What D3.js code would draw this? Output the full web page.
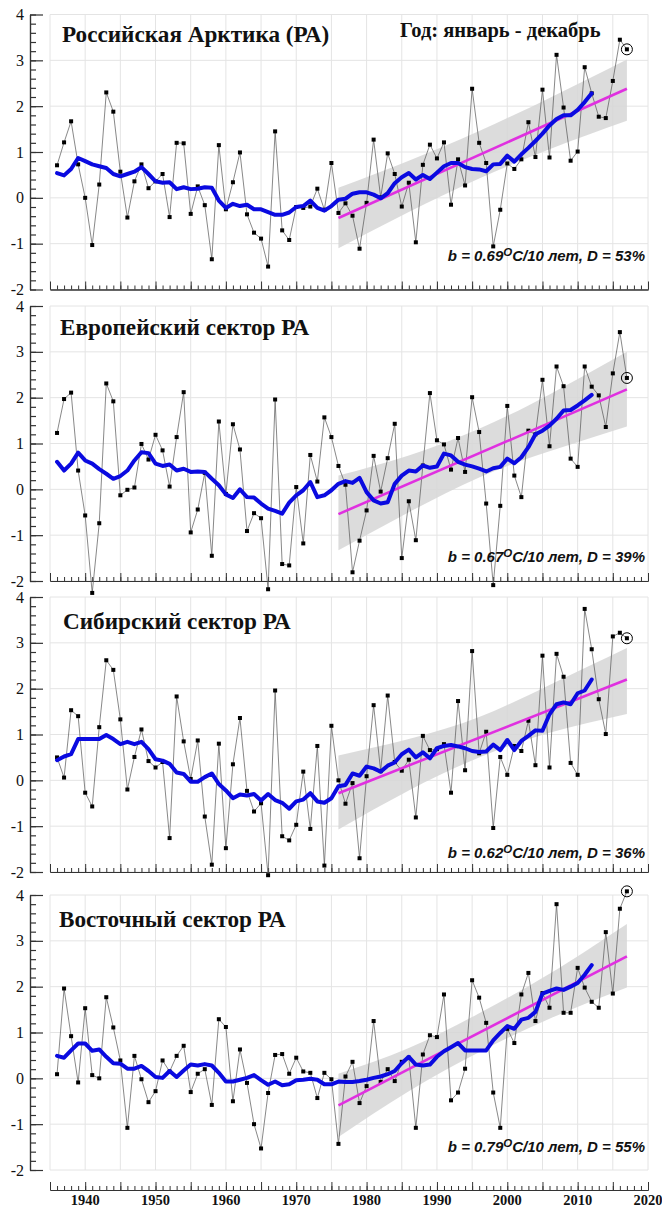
<!DOCTYPE html>
<html><head><meta charset="utf-8">
<script src="https://cdn.jsdelivr.net/npm/d3@7/dist/d3.min.js"></script>
<style>body{margin:0;background:#fff}svg{display:block}</style>
</head><body>
<svg id="chart" width="662" height="1209"></svg>
<script>
// ---------- DATA ----------
const years = d3.range(1936, 2018);          // 1936..2017
const smoothYears = d3.range(1936, 2013);    // 1936..2012
const trendYears = [1976, 2017];
const bandYears = [1976, 1986, 1996, 2006, 2017];
const xLabelYears = [1940, 1950, 1960, 1970, 1980, 1990, 2000, 2010, 2020];
const yTickValues = [-2, -1, 0, 1, 2, 3, 4];

const titles = ["Российская Арктика (РА)", "Европейский сектор РА", "Сибирский сектор РА", "Восточный сектор РА"];
const seasonLabel = "Год: январь - декабрь";
const bValues = ["0.69", "0.67", "0.62", "0.79"];
const dValues = ["53", "39", "36", "55"];

const anomRA = [
  0.71, 1.21, 1.67, 0.73,
  0.00, -1.03, 0.29, 2.30, 1.88, 0.57, -0.43, 0.36, 0.73, 0.21,
  0.36, 0.52, -0.42, 1.20, 1.19, -0.35, 0.25, -0.16, -1.34, 1.15,
  -0.25, 0.34, 0.99, -0.36, -0.76, -0.89, -1.50, 1.45, -0.71, -0.92,
  -0.20, -0.22, -0.19, 0.20, -0.26, 0.76, -0.33, -0.12, -0.39, -1.11,
  -0.11, 1.27, 0.01, 0.97, 0.52, -0.19, 0.33, -0.97, 0.72, 1.16,
  0.86, 1.21, -0.15, 0.84, 0.27, 2.38, 1.20, 0.76, -1.06, -0.26,
  0.75, 0.63, 0.84, 1.65, 0.89, 2.36, 0.88, 3.12, 1.97, 0.81,
  1.01, 2.85, 2.28, 1.77, 1.74, 2.55, 3.45, 3.24
];
const anomEU = [
  1.23, 1.97, 2.11, 0.41,
  -0.57, -2.26, -0.74, 2.31, 1.92, -0.13, -0.01, 0.04, 0.99, 0.65,
  1.19, 0.85, 0.06, 1.14, 2.12, -0.94, -0.44, 0.36, -1.45, 1.48,
  -0.10, 1.42, 0.87, -0.91, -0.52, -0.63, -2.18, 1.96, -1.63, -1.66,
  0.05, -1.18, 0.75, 0.17, 1.57, 1.14, 0.51, 0.10, -1.81, -1.12,
  -0.46, 0.73, -0.05, 0.68, 1.43, -1.50, -0.26, -1.11, 0.52, 2.10,
  1.07, 0.98, 0.43, 1.12, 0.38, 2.01, 1.25, -0.31, -2.09, -0.36,
  1.82, 0.30, -0.17, 1.28, 1.20, 2.39, 0.94, 2.68, 2.25, 0.67,
  0.49, 2.68, 2.24, 2.05, 1.36, 2.53, 3.43, 2.43
];
const anomSIB = [
  0.50, 0.06, 1.53, 1.40,
  -0.27, -0.57, 1.16, 2.62, 2.41, 1.33, -0.20, 0.51, 1.11, 0.42,
  0.28, 0.40, -1.26, 1.83, 0.85, 0.03, 0.87, -0.79, -1.84, 0.80,
  -1.48, 0.35, 1.36, -0.23, -0.68, -0.50, -2.07, 1.96, -1.22, -1.31,
  -0.97, 0.19, -1.06, 0.75, -1.86, 1.19, 0.00, -0.51, -0.06, -1.70,
  0.09, 1.64, 0.20, 1.85, 0.40, 0.21, 0.45, -0.81, 0.97, 0.66,
  0.68, 0.79, -0.27, 1.73, 0.22, 2.82, 0.59, 1.06, -1.04, 0.51,
  0.12, 0.75, 0.64, 1.30, 0.33, 2.72, 0.28, 2.76, 2.26, 0.38,
  0.12, 3.74, 2.86, 1.77, 1.01, 3.14, 3.22, 3.10
];
const anomEAST = [
  0.09, 1.96, 0.92, -0.09,
  1.53, 0.07, 0.00, 1.77, 1.11, 0.39, -1.08, 0.49, -0.02, -0.52,
  -0.28, 0.39, 0.15, 0.49, 0.71, -0.30, 0.10, 0.20, -0.58, 1.29,
  1.12, -0.50, 0.63, -0.10, -1.00, -1.53, -0.32, 0.51, 0.53, 0.10,
  0.45, 0.15, 0.12, -0.43, 0.12, -0.02, -1.43, 0.04, 0.36, -0.54,
  -0.17, 1.25, -0.08, 0.20, -0.06, 0.36, 0.45, -1.08, 0.52, 0.94,
  0.90, 1.83, -0.48, -0.31, 0.21, 2.14, 1.76, 1.21, -0.31, -1.08,
  1.08, 0.77, 1.83, 2.30, 1.25, 1.86, 1.54, 3.80, 1.43, 1.43,
  2.41, 1.98, 1.67, 1.54, 3.19, 1.85, 3.70, 4.08
];

// running-mean curves (1936..2012)
const smoothRA = [
  0.54, 0.49, 0.63, 0.87,
  0.80, 0.73, 0.69, 0.65, 0.52, 0.47, 0.52, 0.57, 0.67, 0.52,
  0.36, 0.33, 0.34, 0.19, 0.23, 0.19, 0.20, 0.23, 0.22, -0.06,
  -0.22, -0.13, -0.18, -0.15, -0.25, -0.25, -0.31, -0.37, -0.37, -0.32,
  -0.20, -0.18, -0.06, -0.22, -0.28, -0.18, -0.04, -0.02, 0.09, 0.12,
  0.12, 0.07, -0.01, 0.10, 0.32, 0.45, 0.54, 0.40, 0.50, 0.41,
  0.55, 0.69, 0.76, 0.76, 0.67, 0.63, 0.62, 0.58, 0.73, 0.74,
  0.92, 0.79, 0.95, 1.09, 1.24, 1.40, 1.58, 1.72, 1.80, 1.80,
  1.92, 2.09, 2.28
];
const smoothEU = [
  0.60, 0.41, 0.56, 0.80,
  0.63, 0.56, 0.44, 0.34, 0.23, 0.29, 0.41, 0.63, 0.81, 0.79,
  0.56, 0.51, 0.54, 0.41, 0.45, 0.38, 0.39, 0.38, 0.23, 0.09,
  -0.11, -0.19, 0.00, -0.17, -0.18, -0.31, -0.42, -0.47, -0.53, -0.29,
  -0.13, -0.02, 0.16, -0.17, -0.13, -0.02, 0.12, 0.18, 0.14, 0.25,
  -0.06, -0.24, -0.31, -0.28, 0.12, 0.30, 0.41, 0.39, 0.52, 0.47,
  0.50, 0.78, 0.74, 0.60, 0.54, 0.50, 0.45, 0.39, 0.46, 0.49,
  0.67, 0.57, 0.70, 0.92, 1.20, 1.28, 1.39, 1.54, 1.72, 1.73,
  1.83, 1.94, 2.06
];
const smoothSIB = [
  0.44, 0.52, 0.57, 0.90,
  0.90, 0.90, 0.90, 0.99, 0.90, 0.79, 0.84, 0.79, 0.84, 0.68,
  0.46, 0.43, 0.36, 0.17, 0.14, -0.03, -0.03, 0.07, 0.15, -0.08,
  -0.22, -0.39, -0.31, -0.33, -0.30, -0.44, -0.30, -0.43, -0.49, -0.62,
  -0.46, -0.42, -0.28, -0.46, -0.49, -0.39, -0.13, -0.10, 0.15, 0.10,
  0.30, 0.26, 0.19, 0.32, 0.39, 0.57, 0.67, 0.50, 0.61, 0.48,
  0.70, 0.75, 0.77, 0.74, 0.70, 0.64, 0.62, 0.63, 0.78, 0.66,
  0.88, 0.66, 0.86, 0.97, 1.09, 1.08, 1.44, 1.66, 1.70, 1.66,
  1.90, 1.96, 2.20
];
const smoothEAST = [
  0.49, 0.45, 0.61, 0.76,
  0.76, 0.60, 0.63, 0.47, 0.33, 0.32, 0.21, 0.21, 0.27, 0.16,
  0.03, 0.01, 0.16, 0.03, 0.17, 0.30, 0.28, 0.31, 0.28, 0.12,
  -0.07, -0.07, -0.03, 0.01, 0.07, -0.04, -0.14, -0.07, -0.15, -0.13,
  -0.04, -0.03, -0.01, -0.03, -0.13, -0.13, -0.07, -0.08, -0.08, -0.06,
  -0.03, 0.01, 0.04, 0.09, 0.16, 0.33, 0.47, 0.30, 0.28, 0.30,
  0.47, 0.59, 0.68, 0.77, 0.61, 0.61, 0.61, 0.61, 0.83, 0.99,
  1.14, 1.08, 1.28, 1.32, 1.45, 1.85, 1.91, 1.96, 1.93, 2.00,
  2.08, 2.26, 2.47
];

// linear trend 1976-2017 (start, end values)
const trendRA = [-0.44, 2.38];
const trendEU = [-0.54, 2.18];
const trendSIB = [-0.28, 2.20];
const trendEAST = [-0.59, 2.66];

// confidence band edges at bandYears
const bandUpRA = [0.22, 0.81, 1.46, 2.18, 3.02];
const bandLoRA = [-1.10, -0.31, 0.42, 1.06, 1.68];
const bandUpEU = [0.30, 0.74, 1.32, 2.07, 3.00];
const bandLoEU = [-1.33, -0.50, 0.26, 0.83, 1.37];
const bandUpSIB = [0.54, 0.90, 1.38, 2.08, 2.89];
const bandLoSIB = [-1.07, -0.22, 0.50, 1.04, 1.45];
const bandUpEAST = [0.10, 0.66, 1.42, 2.28, 3.37];
const bandLoEAST = [-1.28, -0.28, 0.57, 1.30, 1.98];

const anomalies = [anomRA, anomEU, anomSIB, anomEAST];
const smooths = [smoothRA, smoothEU, smoothSIB, smoothEAST];
const trends = [trendRA, trendEU, trendSIB, trendEAST];
const bandUps = [bandUpRA, bandUpEU, bandUpSIB, bandUpEAST];
const bandLos = [bandLoRA, bandLoEU, bandLoSIB, bandLoEAST];

// ---------- LAYOUT ----------
const panelTop = [14.5, 306, 597, 895];
const panelH = 275;
const titleX = [62, 60, 63, 59];
const titleY = [42, 335, 629, 927];
const statY = [261, 562, 858, 1152];
const W = 662, H = 1209;

const svg = d3.select("#chart");
svg.append("rect").attr("width", W).attr("height", H).attr("fill", "#fff");

const x = d3.scaleLinear().domain([1935, 2020]).range([50, 648]);
const axisX = 30;
const serif = "'Liberation Serif','Times New Roman',serif";
const sans = "'Liberation Sans',Arial,sans-serif";

anomalies.forEach((vals, i) => {
  const y = d3.scaleLinear().domain([-2, 4]).range([panelTop[i] + panelH, panelTop[i]]);
  const g = svg.append("g");

  // grid
  const grid = g.append("g").attr("stroke", "#e4e4e4").attr("stroke-width", 1);
  grid.selectAll("line.v").data(d3.range(1935, 2021, 5)).join("line")
    .attr("x1", d => x(d)).attr("x2", d => x(d))
    .attr("y1", y(4)).attr("y2", y(-2));
  grid.selectAll("line.h").data(yTickValues).join("line")
    .attr("x1", x(1935)).attr("x2", x(2020))
    .attr("y1", d => y(d)).attr("y2", d => y(d));

  // y axis
  const yMinor = g.append("g").attr("transform", `translate(${axisX},0)`)
    .call(d3.axisRight(y).tickValues(d3.range(-2, 4.001, 0.2)).tickSize(6).tickSizeOuter(0).tickFormat(""));
  const yMajor = g.append("g").attr("transform", `translate(${axisX},0)`)
    .call(d3.axisRight(y).tickValues(yTickValues).tickSize(13).tickSizeOuter(0).tickFormat(""));
  [yMinor, yMajor].forEach(a => { a.selectAll("line").attr("stroke", "#333").attr("stroke-width", 1.2); a.select(".domain").attr("stroke", "#333").attr("stroke-width", 1.2); });
  g.append("g").selectAll("text").data(yTickValues).join("text")
    .attr("x", axisX - 6).attr("y", d => y(d)).attr("dy", "0.35em")
    .attr("text-anchor", "end").attr("font-family", serif).attr("font-size", 16)
    .attr("fill", "#111").text(d => d < 0 ? "-" + Math.abs(d) : d);

  // x axis (ticks upward)
  const axY = i === 3 ? 1190 : y(-2);
  const xMinor = g.append("g").attr("transform", `translate(0,${axY})`)
    .call(d3.axisTop(x).tickValues(d3.range(1935, 2021, 1)).tickSize(4).tickSizeOuter(0).tickFormat(""));
  const xMajor = g.append("g").attr("transform", `translate(0,${axY})`)
    .call(d3.axisTop(x).tickValues(d3.range(1935, 2021, 5)).tickSize(8).tickSizeOuter(0).tickFormat(""));
  [xMinor, xMajor].forEach(a => { a.selectAll("line").attr("stroke", "#333").attr("stroke-width", 1); a.select(".domain").attr("stroke", "#333").attr("stroke-width", 1.2); });
  if (i === 3) {
    g.append("g").selectAll("text").data(xLabelYears).join("text")
      .attr("x", d => x(d)).attr("y", 1205).attr("text-anchor", "middle")
      .attr("font-family", serif).attr("font-weight", "bold").attr("font-size", 14.5)
      .attr("fill", "#111").text(d => d);
  }

  // confidence band
  const bandData = bandYears.map((yr, k) => ({ yr, up: bandUps[i][k], lo: bandLos[i][k] }));
  g.append("path").datum(bandData)
    .attr("d", d3.area().x(d => x(d.yr)).y0(d => y(d.lo)).y1(d => y(d.up)).curve(d3.curveNatural))
    .attr("fill", "#d6d6d6").attr("fill-opacity", 0.85);

  // annual values line
  const pts = years.map((yr, k) => ({ yr, v: vals[k] }));
  g.append("path").datum(pts)
    .attr("d", d3.line().x(d => x(d.yr)).y(d => y(d.v)))
    .attr("fill", "none").attr("stroke", "#555").attr("stroke-width", 0.7);
  g.append("g").selectAll("rect").data(pts).join("rect")
    .attr("x", d => x(d.yr) - 2).attr("y", d => y(d.v) - 2)
    .attr("width", 4).attr("height", 4).attr("fill", "#000");
  const last = pts[pts.length - 1];
  g.append("circle").attr("cx", x(last.yr)).attr("cy", y(last.v)).attr("r", 5.5)
    .attr("fill", "none").attr("stroke", "#000").attr("stroke-width", 1);

  // trend
  g.append("path").datum(trendYears.map((yr, k) => ({ yr, v: trends[i][k] })))
    .attr("d", d3.line().x(d => x(d.yr)).y(d => y(d.v)))
    .attr("stroke", "#e030e0").attr("stroke-width", 2.6).attr("fill", "none");

  // running mean
  g.append("path").datum(smoothYears.map((yr, k) => ({ yr, v: smooths[i][k] })))
    .attr("d", d3.line().x(d => x(d.yr)).y(d => y(d.v)))
    .attr("fill", "none").attr("stroke", "#0a0ae0").attr("stroke-width", 4)
    .attr("stroke-linejoin", "round").attr("stroke-linecap", "round");

  // title
  g.append("text").attr("x", titleX[i]).attr("y", titleY[i])
    .attr("font-family", serif).attr("font-weight", "bold").attr("font-size", 23.2)
    .attr("fill", "#111").text(titles[i]);

  // statistics
  const st = g.append("text").attr("x", 645).attr("y", statY[i]).attr("text-anchor", "end")
    .attr("font-family", sans).attr("font-weight", "bold").attr("font-style", "italic")
    .attr("font-size", 15).attr("fill", "#111");
  st.append("tspan").text("b = " + bValues[i]);
  st.append("tspan").attr("dy", -5).attr("font-size", 11.5).text("O");
  st.append("tspan").attr("dy", 5).text("C/10 лет, D = " + dValues[i] + "%");
});

svg.append("text").attr("x", 400).attr("y", 37)
  .attr("font-family", serif).attr("font-weight", "bold").attr("font-size", 20.5)
  .attr("fill", "#111").text(seasonLabel);
</script>
</body></html>
